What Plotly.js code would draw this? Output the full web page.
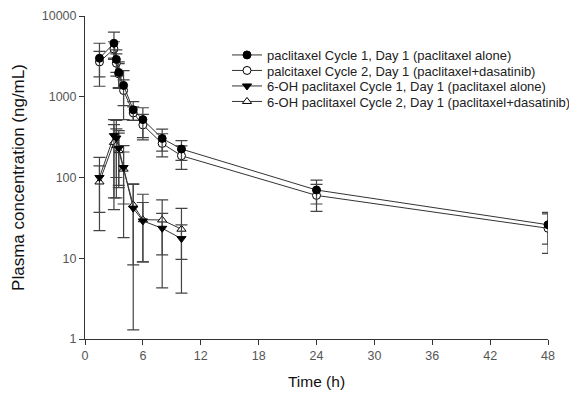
<!DOCTYPE html>
<html>
<head>
<meta charset="utf-8">
<script src="https://cdn.plot.ly/plotly-3.0.1.min.js"></script>
<style>html,body{margin:0;padding:0;background:#fff;}#chart{width:569px;height:396px;}</style>
</head>
<body>
<div id="chart"></div>
<script>
// Sampling times (h)
const timesPac = [1.5, 3, 3.25, 3.5, 4, 5, 6, 8, 10, 24, 48];
const timesOH  = [1.5, 3, 3.25, 3.5, 4, 5, 6, 8, 10];

// paclitaxel Cycle 1, Day 1 (paclitaxel alone)
const pacC1      = [3000, 4600, 2900, 2000, 1380, 690, 521, 305, 225, 70, 26];
const pacC1Plus  = [1600, 1700, 900, 700, 730, 180, 210, 93, 62, 23, 11];
const pacC1Minus = [1650, 1700, 900, 700, 860, 180, 210, 93, 62, 23, 11];

// palcitaxel Cycle 2, Day 1 (paclitaxel+dasatinib)
const pacC2      = [2700, 3900, 2600, 1920, 1195, 630, 448, 264, 186, 60, 23.5];
const pacC2Plus  = [940, 900, 800, 650, 420, 120, 156, 84, 60, 22, 12];
const pacC2Minus = [940, 900, 800, 650, 420, 120, 156, 84, 60, 22, 12];

// 6-OH paclitaxel Cycle 1, Day 1 (paclitaxel alone)
const ohC1      = [100, 330, 308, 230, 133, 41.7, 29, 23.5, 17.5];
const ohC1Plus  = [78, 190, 200, 150, 115, 40.4, 20, 12.5, 24];
const ohC1Minus = [78, 290, 252, 150, 115, 40.4, 20, 19.2, 13.8];

// 6-OH paclitaxel Cycle 2, Day 1 (paclitaxel+dasatinib)
const ohC2      = [88, 272, 250, 215, 127, 45.8, 30, 29.8, 22.9];
const ohC2Plus  = [51, 180, 150, 140, 80, 37.5, 32, 23, 3];
const ohC2Minus = [51, 216, 150, 140, 80, 37.5, 21, 18.8, 13.2];

const seriesNames = [
  "paclitaxel Cycle 1, Day 1 (paclitaxel alone)",
  "palcitaxel Cycle 2, Day 1 (paclitaxel+dasatinib)",
  "6-OH paclitaxel Cycle 1, Day 1 (paclitaxel alone)",
  "6-OH paclitaxel Cycle 2, Day 1 (paclitaxel+dasatinib)"
];

const xTicks = [0, 6, 12, 18, 24, 30, 36, 42, 48];
const yTicks = [1, 10, 100, 1000, 10000];

const lineCol = '#333333';
const errCol = '#444444';

function mkTrace(x, y, plus, minus, name, symbol, fill, size, legend) {
  return {
    type: 'scatter', mode: 'lines+markers', x: x, y: y, name: name,
    legend: legend,
    line: {color: lineCol, width: 1},
    marker: {symbol: symbol, size: size, color: fill, line: {color: '#000', width: 1}},
    error_y: {type: 'data', symmetric: false, array: plus, arrayminus: minus,
              color: errCol, thickness: 1.2, width: 6}
  };
}

const traces = [
  mkTrace(timesOH, ohC2, ohC2Plus, ohC2Minus, seriesNames[3], 'triangle-up', '#fff', 8, 'legend4'),
  mkTrace(timesOH, ohC1, ohC1Plus, ohC1Minus, seriesNames[2], 'triangle-down', '#000', 8, 'legend3'),
  mkTrace(timesPac, pacC2, pacC2Plus, pacC2Minus, seriesNames[1], 'circle', '#fff', 8, 'legend2'),
  mkTrace(timesPac, pacC1, pacC1Plus, pacC1Minus, seriesNames[0], 'circle', '#000', 8, 'legend')
];

const L = 85, R = 21, T = 16, B = 57;
const plotH = 396 - T - B;
function ly(py) { return 1 - (py - T) / plotH; }
const legX = (227 - L) / (569 - L - R);
function legendAt(py) {
  return {x: legX, y: ly(py), xanchor: 'left', yanchor: 'middle',
          bgcolor: 'rgba(0,0,0,0)', borderwidth: 0,
          font: {family: 'Liberation Sans, Arial, sans-serif', size: 13, color: '#222'},
          itemwidth: 30};
}

const layout = {
  width: 569, height: 396,
  margin: {l: L, r: R, t: T, b: B, autoexpand: false},
  paper_bgcolor: '#fff', plot_bgcolor: '#fff',
  font: {family: 'Liberation Sans, Arial, sans-serif', color: '#444'},
  showlegend: true,
  legend: legendAt(55),
  legend2: legendAt(70.5),
  legend3: legendAt(86),
  legend4: legendAt(101.5),
  xaxis: {
    range: [0, 48], tickvals: xTicks, ticktext: xTicks.map(String),
    showgrid: false, zeroline: false, showline: true, linecolor: '#333', linewidth: 1,
    ticks: 'outside', ticklen: 5, tickcolor: '#333',
    tickfont: {size: 12.5, color: '#555'},
    title: {text: 'Time (h)', font: {size: 15.5, color: '#111'}, standoff: 14}
  },
  yaxis: {
    type: 'log', range: [0, 4], tickvals: yTicks, ticktext: yTicks.map(String),
    showgrid: false, zeroline: false, showline: true, linecolor: '#333', linewidth: 1,
    ticks: 'outside', ticklen: 5, tickcolor: '#333',
    tickfont: {size: 12.5, color: '#555'},
    title: {text: 'Plasma concentration (ng/mL)', font: {size: 17, color: '#111'}, standoff: 12}
  }
};

Plotly.newPlot('chart', traces, layout, {displayModeBar: false, staticPlot: true});
</script>
</body>
</html>
